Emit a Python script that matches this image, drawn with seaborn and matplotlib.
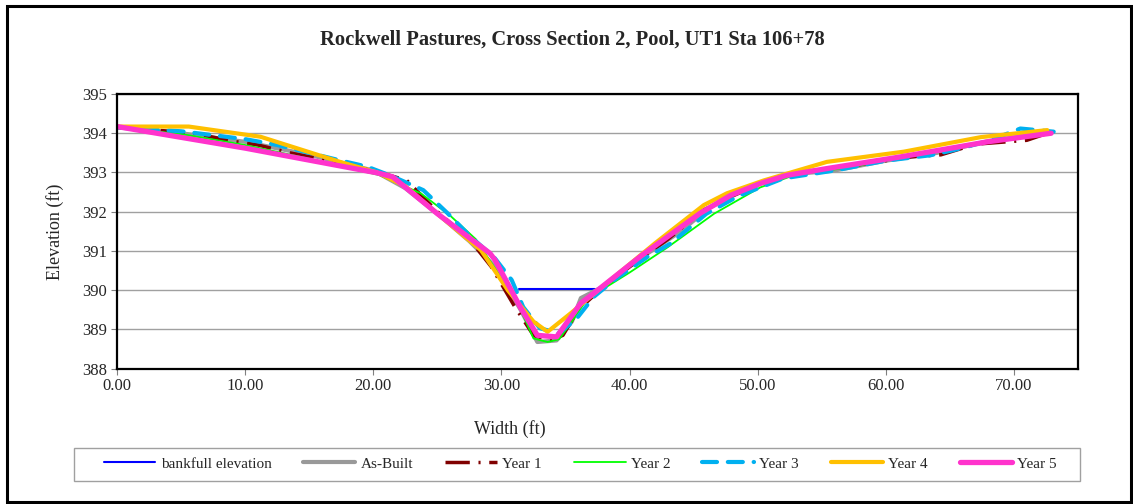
import numpy as np
import pandas as pd
import matplotlib
matplotlib.use('Agg')
import matplotlib.pyplot as plt
import seaborn as sns
from matplotlib.patches import Rectangle

# ==========================================
# Cross section survey data
# ==========================================
bankfull_x = [31.35, 37.3]
bankfull_y = [390.02, 390.02]

asbuilt_x = [0, 5, 10, 15, 20, 22.5, 25, 27.5, 29.5, 31.5, 32.8, 34.3, 35.5, 36.2,
             38, 41, 44, 46.2, 48, 50, 52.5, 56, 60, 64, 68, 72.8]
asbuilt_y = [394.15, 394.0, 393.78, 393.45, 393.05, 392.6, 391.95, 391.25, 390.6, 389.5,
             388.68, 388.72, 389.2, 389.8, 390.1, 390.85, 391.5, 392.1, 392.4, 392.7,
             392.95, 393.05, 393.3, 393.5, 393.8, 394.02]

year1_x = [0, 3, 6, 9, 11, 13.5, 18, 20.5, 22.6, 25, 27.5, 29.2, 31, 32.5, 33.8, 34.8,
           36, 37.5, 40, 43, 45.8, 48, 50.5, 53, 57, 62, 64.3, 67, 71, 72.8]
year1_y = [394.15, 394.08, 394.0, 393.8, 393.7, 393.5, 393.2, 393.0, 392.8, 392.0,
           391.3, 390.6, 389.6, 388.85, 388.72, 388.85, 389.5, 389.95, 390.6, 391.3,
           392.05, 392.4, 392.75, 393.0, 393.15, 393.4, 393.45, 393.72, 393.82, 394.02]

year2_x = [0, 5, 10, 15, 20.5, 23.7, 26, 28, 30, 31.5, 32.5, 33.6, 34.5, 35.5, 36.7,
           40, 43, 46.6, 50.2, 53, 57, 62, 67, 72.8]
year2_y = [394.15, 393.98, 393.7, 393.35, 392.93, 392.47, 391.9, 391.3, 390.3, 389.5,
           388.77, 388.68, 388.75, 389.2, 389.78, 390.45, 391.1, 391.95, 392.62, 392.95,
           393.12, 393.42, 393.75, 394.0]

year3_x = [0, 5, 10, 12.5, 17.5, 19.5, 21.5, 23.9, 25.8, 27.6, 29.4, 30.8, 31.7, 33.0,
           34.5, 35.9, 37.2, 38.8, 41.4, 43.2, 46, 48.5, 52, 56, 60, 63.5, 65.3, 68,
           70.5, 73.1]
year3_y = [394.15, 394.05, 393.85, 393.7, 393.3, 393.15, 392.9, 392.55, 391.96, 391.36,
           390.85, 390.26, 389.57, 389.03, 388.9, 389.29, 389.83, 390.26, 390.85, 391.19,
           391.95, 392.4, 392.85, 393.05, 393.3, 393.44, 393.57, 393.8, 394.12, 394.04]

year4_x = [0, 5.6, 11.2, 17.4, 20.3, 22.5, 25, 28.4, 30.5, 32.5, 33.6, 35.4, 38.8, 42,
           45.8, 47.6, 50.5, 55.4, 61.4, 67.4, 72.6]
year4_y = [394.17, 394.17, 393.91, 393.27, 393.0, 392.65, 391.95, 391.02, 390.0, 389.2,
           388.94, 389.41, 390.34, 391.2, 392.17, 392.47, 392.8, 393.27, 393.53, 393.9,
           394.08]

year5_x = [0, 10, 20.3, 21.5, 25, 29.1, 29.5, 31.5, 32.8, 34.3, 36.2, 37.2, 41, 45.5,
           47.9, 50.2, 52.3, 55.4, 61.2, 67.9, 72.9]
year5_y = [394.17, 393.62, 392.99, 392.89, 391.95, 390.94, 390.77, 389.55, 388.85,
           388.81, 389.67, 389.92, 390.9, 391.96, 392.42, 392.72, 392.93, 393.1, 393.4,
           393.78, 394.0]

x_ticks = [0, 10, 20, 30, 40, 50, 60, 70]
y_ticks = [388, 389, 390, 391, 392, 393, 394, 395]

# ==========================================
# Plot
# ==========================================
sns.set_style('white')
plt.rcParams['font.family'] = ['Liberation Serif', 'DejaVu Serif']

fig = plt.figure(figsize=(11.33, 5.04), dpi=100)
ax = fig.add_axes([0.1033, 0.2685, 0.8482, 0.545])

series = [
    ('bankfull elevation', bankfull_x, bankfull_y, dict(color='#0000FF', lw=1.5)),
    ('As-Built', asbuilt_x, asbuilt_y, dict(color='#999999', lw=3)),
    ('Year 1', year1_x, year1_y, dict(color='#800000', lw=2.5,
                                      linestyle=(0, (7, 2.5, 0.6, 2.5)))),
    ('Year 2', year2_x, year2_y, dict(color='#00FF00', lw=1.3)),
    ('Year 3', year3_x, year3_y, dict(color='#00B0F0', lw=3,
                                      linestyle=(0, (3.6, 2.6)), dash_capstyle='round')),
    ('Year 4', year4_x, year4_y, dict(color='#FFC000', lw=3)),
    ('Year 5', year5_x, year5_y, dict(color='#FF33CC', lw=3.8)),
]

for name, xs, ys, style in series:
    df = pd.DataFrame({'x': xs, 'y': ys})
    sns.lineplot(data=df, x='x', y='y', ax=ax, sort=False, label=name, **style)

ax.set_xlim(0, 75)
ax.set_ylim(388, 395)
ax.set_xticks(x_ticks)
ax.set_xticklabels([f'{v:.2f}' for v in x_ticks])
ax.set_yticks(y_ticks)
ax.yaxis.grid(True, color='#A0A0A0', lw=1)
ax.xaxis.grid(False)
ax.set_axisbelow(True)
for s in ax.spines.values():
    s.set_color('black')
    s.set_linewidth(1.6)
ax.tick_params(axis='both', direction='out', length=4, width=0.8, color='#808080',
               labelsize=12, pad=3, bottom=True, left=True)

ax.set_xlabel('Width (ft)', fontsize=13)
ax.set_ylabel('Elevation (ft)', fontsize=13)
ax.xaxis.set_label_coords((510 - 117) / 961, -(420 - 368.7) / 274.7)
ax.yaxis.set_label_coords(-(117 - 64) / 961, 0.5)
fig.text(572 / 1133, 1 - 40 / 504, 'Rockwell Pastures, Cross Section 2, Pool, UT1 Sta 106+78',
         ha='center', va='center', fontsize=14.8, fontweight='bold')

# legend in its own box below the plot
handles, labels = ax.get_legend_handles_labels()
ax.get_legend().remove()
fig.legend(handles, labels, loc='center', bbox_to_anchor=(580 / 1133, 1 - 464 / 504),
           ncol=7, frameon=False, fontsize=11, handlelength=3.4, handletextpad=0.33,
           columnspacing=2.1)
fig.patches.append(Rectangle((74 / 1133, 1 - 481 / 504), 1006 / 1133, 33 / 504,
                             transform=fig.transFigure, fill=False, ec='#A0A0A0', lw=1))
# outer chart border
fig.patches.append(Rectangle((7 / 1133, 1 - 502 / 504), 1124 / 1133, 496 / 504,
                             transform=fig.transFigure, fill=False, ec='black', lw=2.2))

plt.savefig('out.png', dpi=100)
